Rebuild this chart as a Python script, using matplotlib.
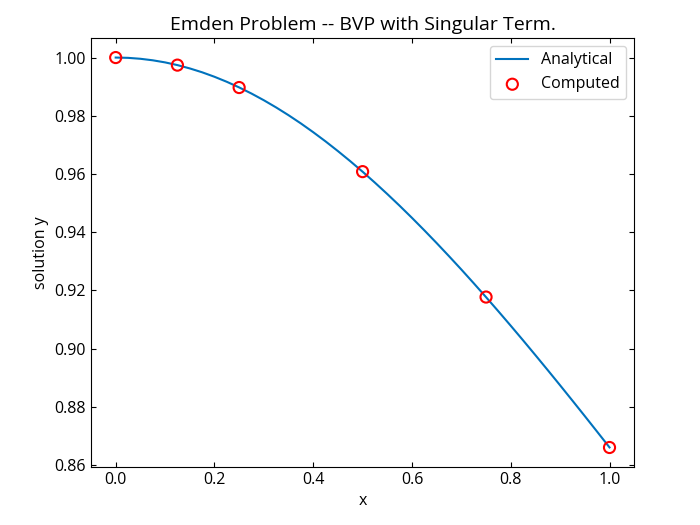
import matplotlib
matplotlib.use('Agg')
import matplotlib.pyplot as plt

# analytical curve
x_exact = [0.0, 0.025, 0.05, 0.075, 0.1, 0.125, 0.15, 0.175, 0.2, 0.225,
           0.25, 0.275, 0.3, 0.325, 0.35, 0.375, 0.4, 0.425, 0.45, 0.475,
           0.5, 0.525, 0.55, 0.575, 0.6, 0.625, 0.65, 0.675, 0.7, 0.725,
           0.75, 0.775, 0.8, 0.825, 0.85, 0.875, 0.9, 0.925, 0.95, 0.975, 1.0]
y_exact = [1.0, 0.99990, 0.99958, 0.99906, 0.99834, 0.99741, 0.99627, 0.99494,
           0.99340, 0.99167, 0.98974, 0.98763, 0.98533, 0.98285, 0.98019,
           0.97736, 0.97435, 0.97119, 0.96786, 0.96439, 0.96077, 0.95700,
           0.95310, 0.94907, 0.94491, 0.94063, 0.93624, 0.93174, 0.92715,
           0.92245, 0.91766, 0.91279, 0.90784, 0.90282, 0.89772, 0.89257,
           0.88736, 0.88209, 0.87678, 0.87142, 0.86603]

# computed nodes
x_comp = [0.0, 0.125, 0.25, 0.5, 0.75, 1.0]
y_comp = [1.0, 0.9974, 0.9897, 0.9608, 0.9177, 0.8660]

plt.rcParams['font.family'] = ['Open Sans', 'DejaVu Sans']

fig = plt.figure(figsize=(7, 5.25), dpi=100)
ax = fig.add_axes([0.13, 0.1105, 0.776, 0.817])

ax.plot(x_exact, y_exact, color='#0072bd', lw=1.5, label='Analytical')
ax.scatter(x_comp, y_comp, s=64, facecolors='none', edgecolors='red',
           linewidths=1.5, label='Computed', zorder=3)

ax.tick_params(direction='in', top=True, right=True, labelsize=11.5)
ax.set_xlabel('x', fontsize=11.5)
ax.set_ylabel('solution y', fontsize=11.5)
ax.set_title('Emden Problem -- BVP with Singular Term.', fontsize=14)
ax.legend(loc='upper right', fontsize=11.5)

fig.savefig('out.png', dpi=100)
